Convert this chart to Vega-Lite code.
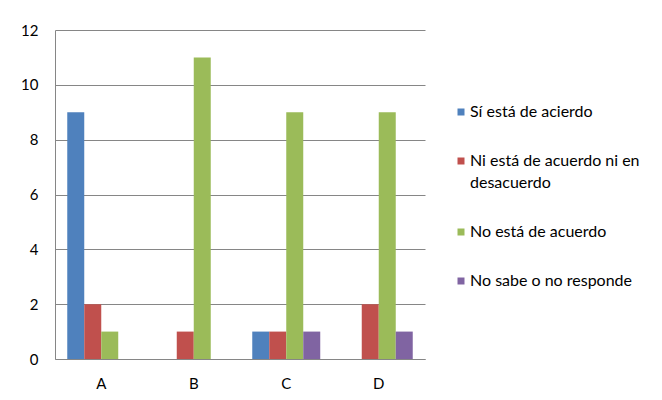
{
  "$schema": "https://vega.github.io/schema/vega-lite/v6.json",
  "width": 370,
  "height": 329,
  "autosize": {"type": "none"},
  "padding": {"left": 55, "top": 30, "right": 237, "bottom": 41},
  "background": "white",
  "data": {
    "values": [
      {"cat": "A", "resp": "Sí está de acierdo", "n": 9},
      {"cat": "A", "resp": "Ni está de acuerdo ni en desacuerdo", "n": 2},
      {"cat": "A", "resp": "No está de acuerdo", "n": 1},
      {"cat": "A", "resp": "No sabe o no responde", "n": 0},
      {"cat": "B", "resp": "Sí está de acierdo", "n": 0},
      {"cat": "B", "resp": "Ni está de acuerdo ni en desacuerdo", "n": 1},
      {"cat": "B", "resp": "No está de acuerdo", "n": 11},
      {"cat": "B", "resp": "No sabe o no responde", "n": 0},
      {"cat": "C", "resp": "Sí está de acierdo", "n": 1},
      {"cat": "C", "resp": "Ni está de acuerdo ni en desacuerdo", "n": 1},
      {"cat": "C", "resp": "No está de acuerdo", "n": 9},
      {"cat": "C", "resp": "No sabe o no responde", "n": 1},
      {"cat": "D", "resp": "Sí está de acierdo", "n": 0},
      {"cat": "D", "resp": "Ni está de acuerdo ni en desacuerdo", "n": 2},
      {"cat": "D", "resp": "No está de acuerdo", "n": 9},
      {"cat": "D", "resp": "No sabe o no responde", "n": 1}
    ]
  },
  "mark": {"type": "bar"},
  "encoding": {
    "x": {
      "field": "cat",
      "type": "nominal",
      "scale": {"paddingInner": 0.265, "paddingOuter": 0.1325},
      "axis": {
        "title": null,
        "labelAngle": 0,
        "labelFont": "Lato",
        "labelFontSize": 15,
        "labelColor": "#000000",
        "labelPadding": 17,
        "ticks": false,
        "domainColor": "#868686",
        "domainWidth": 1
      }
    },
    "xOffset": {
      "field": "resp",
      "type": "nominal",
      "sort": ["Sí está de acierdo", "Ni está de acuerdo ni en desacuerdo", "No está de acuerdo", "No sabe o no responde"],
      "scale": {"paddingInner": 0, "paddingOuter": 0}
    },
    "y": {
      "field": "n",
      "type": "quantitative",
      "scale": {"domain": [0, 12], "nice": false},
      "axis": {
        "title": null,
        "values": [0, 2, 4, 6, 8, 10, 12],
        "labelFont": "Lato",
        "labelFontSize": 15,
        "labelColor": "#000000",
        "labelPadding": 17,
        "ticks": false,
        "grid": true,
        "gridColor": "#868686",
        "gridWidth": 1,
        "domainColor": "#868686",
        "domainWidth": 1
      }
    },
    "color": {
      "field": "resp",
      "type": "nominal",
      "sort": ["Sí está de acierdo", "Ni está de acuerdo ni en desacuerdo", "No está de acuerdo", "No sabe o no responde"],
      "scale": {
        "domain": ["Sí está de acierdo", "Ni está de acuerdo ni en desacuerdo", "No está de acuerdo", "No sabe o no responde"],
        "range": ["#4F81BD", "#C0504D", "#9BBB59", "#8064A2"]
      },
      "legend": {
        "title": null,
        "orient": "none",
        "legendX": 398,
        "legendY": 74,
        "symbolType": "square",
        "symbolSize": 49,
        "symbolStrokeWidth": 0,
        "labelFont": "Lato",
        "labelFontSize": 16,
        "labelColor": "#000000",
        "labelOffset": 1,
        "labelLimit": 300,
        "rowPadding": 33,
        "labelExpr": "datum.label == 'Ni está de acuerdo ni en desacuerdo' ? ['Ni está de acuerdo ni en', 'desacuerdo'] : datum.label"
      }
    }
  },
  "config": {
    "view": {"stroke": null},
    "axis": {"gridOpacity": 1},
    "style": {"guide-label": {"lineHeight": 22}}
  }
}
